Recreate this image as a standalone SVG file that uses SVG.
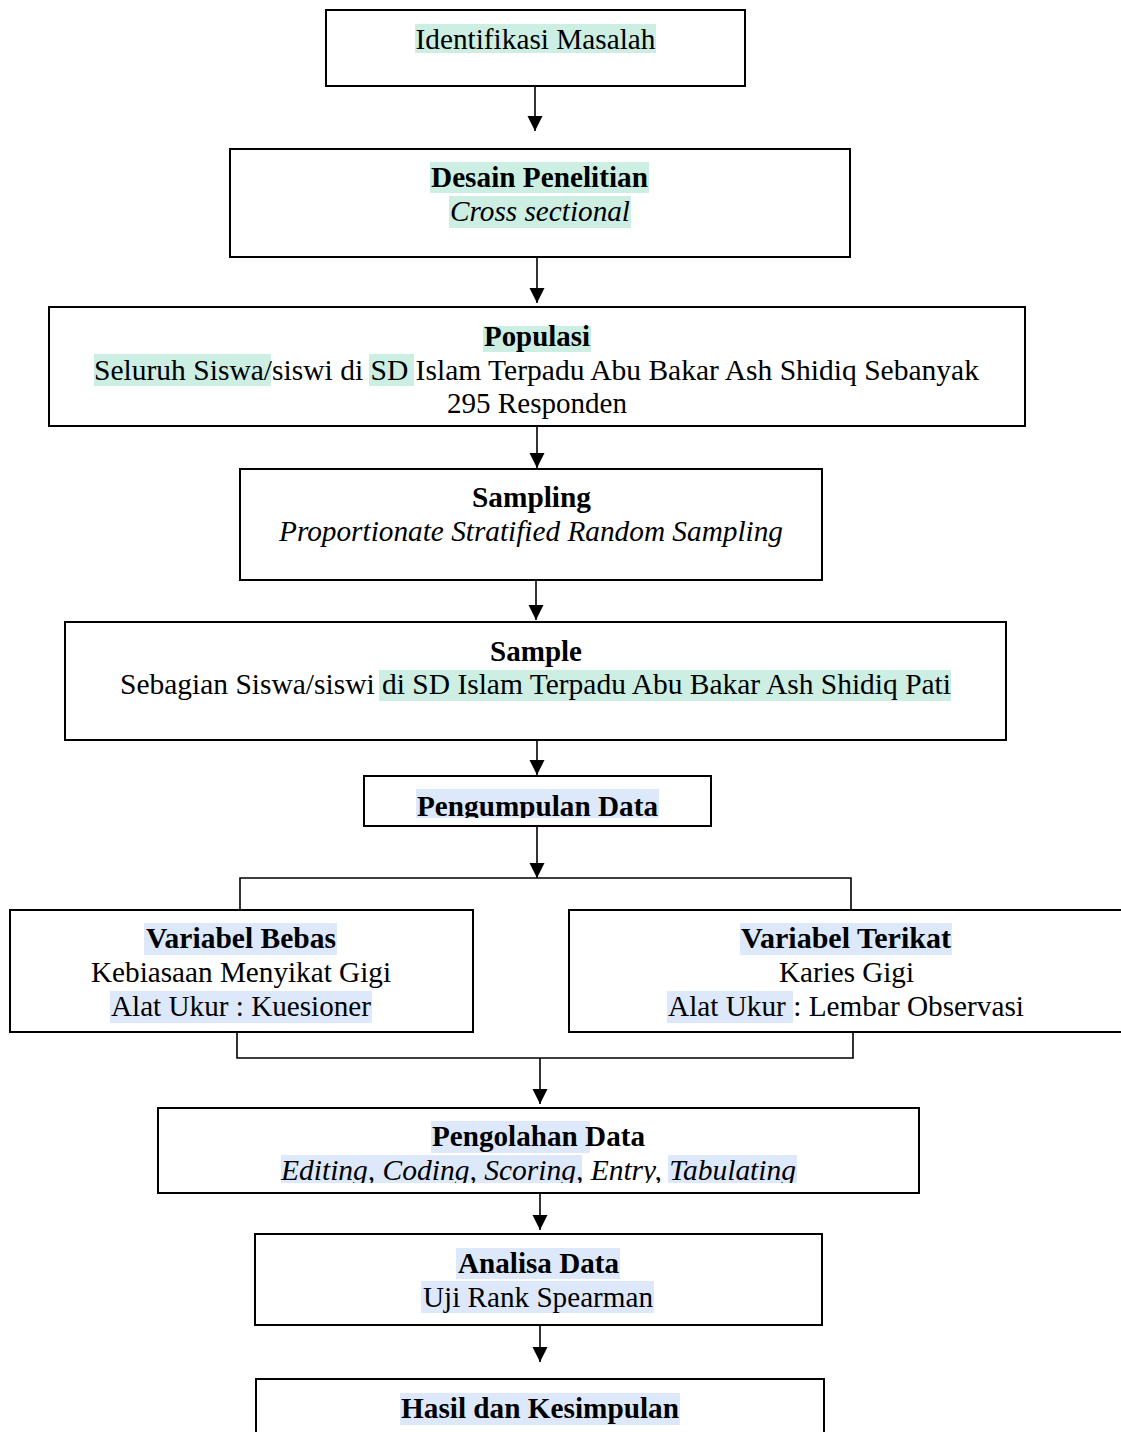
<svg xmlns="http://www.w3.org/2000/svg" width="1121" height="1432" viewBox="0 0 1121 1432">
<defs>
<style>
.box{fill:#fff;stroke:#000;stroke-width:2}
.t{font-family:'Liberation Serif','Times New Roman',Tinos,Times,serif;font-size:29px;fill:#000;text-anchor:middle}
.b{font-weight:bold}
.i{font-style:italic}
.hg{fill:#cdeee3}
.hb{fill:#dde8fb}
.ln{fill:none;stroke:#000;stroke-width:1.6}
</style>
<marker id="ah" markerUnits="userSpaceOnUse" markerWidth="16" markerHeight="16" refX="15" refY="7.5" orient="auto">
<path d="M0,0 L15,7.5 L0,15 z" fill="#000"/>
</marker>
<clipPath id="c6"><rect x="360" y="770" width="360" height="48"/></clipPath>
<clipPath id="c8"><rect x="150" y="1100" width="780" height="83"/></clipPath>
</defs>
<rect width="1121" height="1432" fill="#fff"/>

<g id="connectors">
<line class="ln" x1="535" y1="86" x2="535" y2="131" marker-end="url(#ah)"/>
<line class="ln" x1="537" y1="257" x2="537" y2="303" marker-end="url(#ah)"/>
<line class="ln" x1="537" y1="426" x2="537" y2="468" marker-end="url(#ah)"/>
<line class="ln" x1="536" y1="580" x2="536" y2="620" marker-end="url(#ah)"/>
<line class="ln" x1="537" y1="740" x2="537" y2="775" marker-end="url(#ah)"/>
<line class="ln" x1="537" y1="826" x2="537" y2="878" marker-end="url(#ah)"/>
<path class="ln" d="M240,910 V878 H851 V910"/>
<path class="ln" d="M237,1032 V1058 H853 V1032"/>
<line class="ln" x1="540" y1="1058" x2="540" y2="1104" marker-end="url(#ah)"/>
<line class="ln" x1="540" y1="1193" x2="540" y2="1230" marker-end="url(#ah)"/>
<line class="ln" x1="540" y1="1325" x2="540" y2="1362" marker-end="url(#ah)"/>
</g>

<g id="n1">
<rect class="box" x="326" y="10" width="419" height="76"/>
<rect class="hg" x="415" y="24" width="241" height="29"/>
<text class="t" x="535.5" y="49" textLength="240" lengthAdjust="spacingAndGlyphs">Identifikasi Masalah</text>
</g>

<g id="n2">
<rect class="box" x="230" y="149" width="620" height="108"/>
<rect class="hg" x="430" y="162" width="219" height="31"/>
<rect class="hg" x="449" y="196" width="182" height="32"/>
<text class="t b" x="539.5" y="187" textLength="217" lengthAdjust="spacingAndGlyphs">Desain Penelitian</text>
<text class="t i" x="540" y="221" textLength="180" lengthAdjust="spacingAndGlyphs">Cross sectional</text>
</g>

<g id="n3">
<rect class="box" x="49" y="307" width="976" height="119"/>
<rect class="hg" x="483" y="326" width="108" height="26"/>
<rect class="hg" x="94" y="354" width="177" height="32"/>
<rect class="hg" x="369" y="354" width="45" height="32"/>
<text class="t b" x="537" y="346" textLength="106" lengthAdjust="spacingAndGlyphs">Populasi</text>
<text class="t" x="536.5" y="380" textLength="885" lengthAdjust="spacingAndGlyphs">Seluruh Siswa/siswi di SD Islam Terpadu Abu Bakar Ash Shidiq Sebanyak</text>
<text class="t" x="537" y="413" textLength="180" lengthAdjust="spacingAndGlyphs">295 Responden</text>
</g>

<g id="n4">
<rect class="box" x="240" y="469" width="582" height="111"/>
<text class="t b" x="531.5" y="507" textLength="119" lengthAdjust="spacingAndGlyphs">Sampling</text>
<text class="t i" x="531" y="541" textLength="504" lengthAdjust="spacingAndGlyphs">Proportionate Stratified Random Sampling</text>
</g>

<g id="n5">
<rect class="box" x="65" y="622" width="941" height="118"/>
<rect class="hg" x="379" y="670" width="572" height="31"/>
<text class="t b" x="536" y="661" textLength="92" lengthAdjust="spacingAndGlyphs">Sample</text>
<text class="t" x="535.5" y="694" textLength="831" lengthAdjust="spacingAndGlyphs">Sebagian Siswa/siswi di SD Islam Terpadu Abu Bakar Ash Shidiq Pati</text>
</g>

<g id="n6">
<rect class="box" x="364" y="776" width="347" height="50"/>
<g clip-path="url(#c6)">
<rect class="hb" x="416" y="789" width="243" height="32"/>
<text class="t b" x="537.5" y="816" textLength="241" lengthAdjust="spacingAndGlyphs">Pengumpulan Data</text>
</g>
</g>

<g id="n7">
<rect class="box" x="10" y="910" width="463" height="122"/>
<rect class="hb" x="144" y="923" width="193" height="32"/>
<rect class="hb" x="110" y="991" width="262" height="32"/>
<text class="t b" x="241" y="948" textLength="190" lengthAdjust="spacingAndGlyphs">Variabel Bebas</text>
<text class="t" x="241" y="982" textLength="300" lengthAdjust="spacingAndGlyphs">Kebiasaan Menyikat Gigi</text>
<text class="t" x="241" y="1016" textLength="260" lengthAdjust="spacingAndGlyphs">Alat Ukur : Kuesioner</text>
</g>

<g id="n8">
<rect class="box" x="569" y="910" width="560" height="122"/>
<rect class="hb" x="740" y="923" width="212" height="32"/>
<rect class="hb" x="667" y="991" width="126" height="32"/>
<text class="t b" x="846" y="948" textLength="210" lengthAdjust="spacingAndGlyphs">Variabel Terikat</text>
<text class="t" x="846.5" y="982" textLength="135" lengthAdjust="spacingAndGlyphs">Karies Gigi</text>
<text class="t" x="846" y="1016" textLength="356" lengthAdjust="spacingAndGlyphs">Alat Ukur : Lembar Observasi</text>
</g>

<g id="n9">
<rect class="box" x="158" y="1108" width="761" height="85"/>
<rect class="hb" x="431" y="1121" width="159" height="32"/>
<g clip-path="url(#c8)">
<rect class="hb" x="281" y="1155" width="301" height="32"/>
<rect class="hb" x="668" y="1155" width="129" height="32"/>
<text class="t b" x="538.5" y="1146" textLength="213" lengthAdjust="spacingAndGlyphs">Pengolahan Data</text>
<text class="t i" x="538.5" y="1180" textLength="515" lengthAdjust="spacingAndGlyphs">Editing, Coding, Scoring, Entry, Tabulating</text>
</g>
</g>

<g id="n10">
<rect class="box" x="255" y="1234" width="567" height="91"/>
<rect class="hb" x="456" y="1248" width="164" height="31"/>
<rect class="hb" x="421" y="1281" width="233" height="32"/>
<text class="t b" x="538.5" y="1273" textLength="161" lengthAdjust="spacingAndGlyphs">Analisa Data</text>
<text class="t" x="538" y="1307" textLength="230" lengthAdjust="spacingAndGlyphs">Uji Rank Spearman</text>
</g>

<g id="n11">
<rect class="box" x="256" y="1379" width="568" height="70"/>
<rect class="hb" x="400" y="1393" width="280" height="32"/>
<text class="t b" x="540" y="1418" textLength="278" lengthAdjust="spacingAndGlyphs">Hasil dan Kesimpulan</text>
</g>
</svg>
